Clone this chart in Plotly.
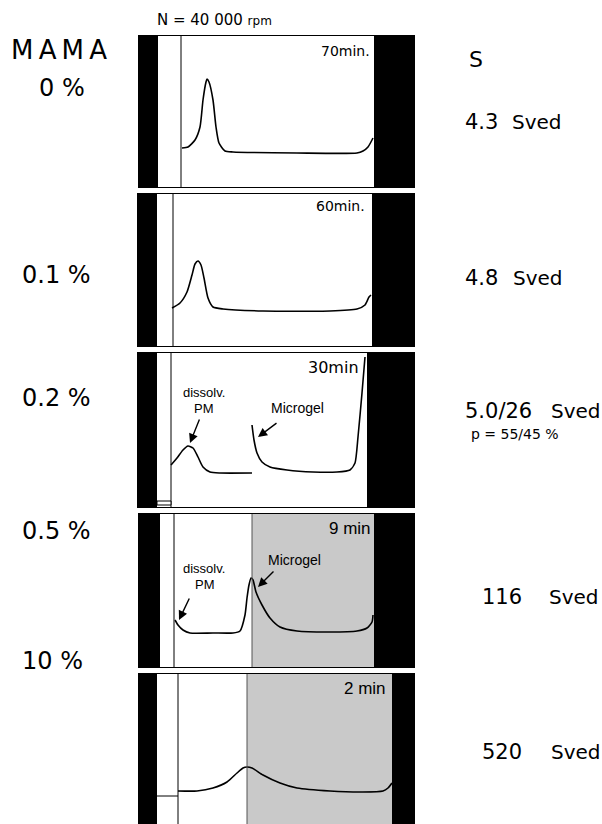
import plotly.graph_objects as go

W, H = 602, 824

# ---------------- data ----------------
# radial position (arb. units from left edge of cell image) and
# refractive-index-gradient signal (arb. units above panel bottom)
concentrations = ["0 %", "0.1 %", "0.2 %", "0.5 %", "10 %"]
run_times = ["70min.", "60min.", "30min", "9 min", "2 min"]
sed_values = ["4.3", "4.8", "5.0/26", "116", "520"]
sed_unit = "Sved"

p1_r = [45, 51, 58, 63, 66, 69, 70, 72, 76, 79, 82, 88, 96, 160, 220, 226, 231, 236]
p1_s = [40, 41, 48, 61, 88, 106, 109, 106, 88, 61, 45, 37, 36, 35, 35, 37, 41, 50]

p2_r = [35, 43, 50, 55, 58, 61, 64, 67, 71, 76, 86, 126, 193, 220, 228, 232, 234]
p2_s = [39, 44, 55, 72, 83, 86, 82, 69, 49, 40, 38, 36, 36, 38, 42, 50, 52]

p3a_r = [34, 40, 46, 51, 56, 61, 66, 73, 83, 115]
p3a_s = [43, 50, 58, 62, 60, 51, 41, 36, 35, 35]
p3b_r = [115, 117, 120, 125, 133, 150, 176, 200, 213, 218, 221, 225, 228]
p3b_s = [83, 68, 55, 46, 41, 38, 36, 36, 38, 45, 71, 115, 151]

p4_r = [38, 41, 46, 53, 76, 96, 103, 108, 110, 112, 114, 116, 119, 125, 133, 143, 160, 193, 220, 230, 235, 236]
p4_s = [48, 43, 38, 35, 35, 35, 37, 53, 70, 83, 90, 88, 76, 63, 50, 41, 37, 36, 37, 40, 46, 53]

p5_r = [41, 60, 76, 90, 100, 106, 110, 115, 126, 143, 160, 193, 226, 246, 251, 255]
p5_s = [33, 33, 36, 42, 51, 56, 57, 56, 49, 41, 36, 33, 32, 33, 36, 41]

curves = [
    [(p1_r, p1_s)],
    [(p2_r, p2_s)],
    [(p3a_r, p3a_s), (p3b_r, p3b_s)],
    [(p4_r, p4_s)],
    [(p5_r, p5_s)],
]

# ---------------- layout geometry (pixels) ----------------
X0, X1 = 137, 415                     # horizontal extent of the strip
panels = [  # top, bottom, left-black, meniscus line, gray start, right-black start
    dict(top=35, bot=188, lb=(1, 21), men=44, gray=None, rb=237),
    dict(top=193, bot=347, lb=(0, 20), men=36, gray=None, rb=235),
    dict(top=352, bot=508, lb=(0, 20), men=34, gray=None, rb=230),
    dict(top=513, bot=668, lb=(1, 23), men=37, gray=115, rb=237),
    dict(top=673, bot=824, lb=(1, 20), men=41, gray=110, rb=255),
]

fig = go.Figure()
shapes = []
annotations = []

def px(x):
    return x / W

def py(y):
    return 1 - y / H

for i, p in enumerate(panels):
    n = "" if i == 0 else str(i + 1)
    xa, ya = "x" + n, "y" + n
    hgt = p["bot"] - p["top"]
    fig.update_layout(**{
        "xaxis" + n: dict(domain=[px(X0), px(X1)], range=[0, X1 - X0], visible=False,
                          fixedrange=True, anchor=ya),
        "yaxis" + n: dict(domain=[py(p["bot"]), py(p["top"])], range=[0, hgt], visible=False,
                          fixedrange=True, anchor=xa),
    })
    if p["gray"] is not None:
        shapes.append(dict(type="rect", xref=xa, yref=ya, x0=p["gray"], x1=p["rb"], y0=0, y1=hgt,
                           fillcolor="#c9c9c9", line=dict(width=0), layer="below"))
        shapes.append(dict(type="line", xref=xa, yref=ya, x0=p["gray"], x1=p["gray"], y0=0, y1=hgt,
                           line=dict(color="#555", width=1)))
    shapes.append(dict(type="rect", xref=xa, yref=ya, x0=p["lb"][0], x1=p["lb"][1], y0=0, y1=hgt,
                       fillcolor="black", line=dict(width=0)))
    shapes.append(dict(type="rect", xref=xa, yref=ya, x0=p["rb"], x1=X1 - X0, y0=0, y1=hgt,
                       fillcolor="black", line=dict(width=0)))
    shapes.append(dict(type="line", xref=xa, yref=ya, x0=p["lb"][1], x1=p["rb"], y0=hgt - 0.5, y1=hgt - 0.5,
                       line=dict(color="black", width=1.2)))
    if i < 4:
        shapes.append(dict(type="line", xref=xa, yref=ya, x0=p["lb"][1], x1=p["rb"], y0=0.5, y1=0.5,
                           line=dict(color="black", width=1.2)))
    shapes.append(dict(type="line", xref=xa, yref=ya, x0=p["men"], x1=p["men"], y0=0, y1=hgt,
                       line=dict(color="black", width=1)))
    for (r, s) in curves[i]:
        fig.add_trace(go.Scatter(x=r, y=s, mode="lines", xaxis=xa, yaxis=ya,
                                 line=dict(color="black", width=1.6, shape="spline", smoothing=0.6),
                                 hoverinfo="skip"))

shapes.append(dict(type="rect", xref="x3", yref="y3", x0=20, x1=34, y0=3, y1=7,
                   line=dict(color="black", width=1), fillcolor="white"))
shapes.append(dict(type="line", xref="x5", yref="y5", x0=20, x1=41, y0=28, y1=28,
                   line=dict(color="black", width=1)))

# ---------------- text ----------------
din = "DejaVu Sans"
arial = "Liberation Sans, Arial"

def txt(x, y, t, size, font=din, xanchor="left", color="black"):
    annotations.append(dict(x=px(x), y=py(y), xref="paper", yref="paper", text=t, showarrow=False,
                            xanchor=xanchor, yanchor="middle", font=dict(family=font, size=size, color=color)))

txt(155, 20, "N = 40 000 <span style='font-size:12px'>rpm</span>", 15)
txt(9, 50, "M\u2009A\u2009M\u2009A", 26)
txt(467, 60, "S", 22)

left_pos = [(37, 88), (20, 275), (20, 398), (20, 531), (20, 661)]
for (x, y), t in zip(left_pos, concentrations):
    txt(x, y, t, 24)

time_pos = [(372, 51, din, 14), (367, 206, din, 14), (361, 367, din, 16),
            (373, 528, arial, 17), (388, 688, arial, 17)]
for (x, y, f, s), t in zip(time_pos, run_times):
    txt(x, y, t, s, font=f, xanchor="right")

sed_pos = [(463, 510, 122), (463, 511, 278), (463, 549, 411), (480, 547, 597), (480, 549, 752)]
for (xn, xu, y), v in zip(sed_pos, sed_values):
    txt(xn, y, v, 21)
    txt(xu, y, sed_unit, 20)
txt(469, 434, "p = 55/45 %", 14)

txt(204, 393, "dissolv.", 13, font=arial, xanchor="center")
txt(204, 408, "PM", 13, font=arial, xanchor="center")
txt(297, 408, "Microgel", 14, font=arial, xanchor="center")
txt(204, 568, "dissolv.", 13, font=arial, xanchor="center")
txt(205, 584, "PM", 13, font=arial, xanchor="center")
txt(294, 560, "Microgel", 14, font=arial, xanchor="center")

def arrow(xa, ya, head, tail):
    annotations.append(dict(x=head[0], y=head[1], ax=tail[0], ay=tail[1], xref=xa, yref=ya,
                            axref=xa, ayref=ya, text="", showarrow=True, arrowhead=2,
                            arrowsize=1.3, arrowwidth=1.4, arrowcolor="black", standoff=0))

arrow("x3", "y3", (53, 65), (63, 90))
arrow("x3", "y3", (121, 71), (141, 86))
arrow("x4", "y4", (42, 48), (53, 71))
arrow("x4", "y4", (121, 81), (138, 98))

fig.update_layout(width=W, height=H, margin=dict(l=0, r=0, t=0, b=0),
                  paper_bgcolor="white", plot_bgcolor="white", showlegend=False,
                  shapes=shapes, annotations=annotations)

fig.write_html("out.html", config={"displayModeBar": False},
               post_script="document.body.style.margin='0';document.body.style.overflow='hidden';")
